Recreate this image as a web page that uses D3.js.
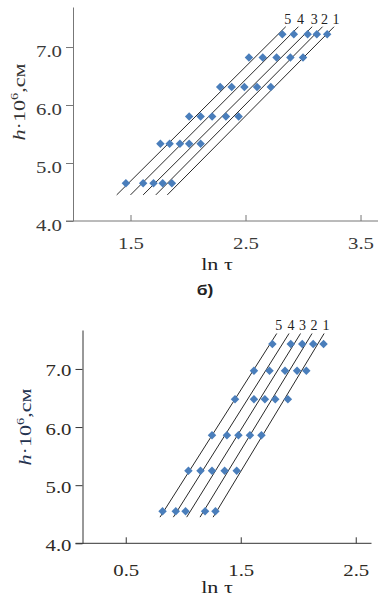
<!DOCTYPE html>
<html>
<head>
<meta charset="utf-8">
<script src="https://cdn.jsdelivr.net/npm/d3@7"></script>
<style>
  body { margin: 0; background: #fff; }
  svg { display: block; }
</style>
</head>
<body>
<div id="container"></div>
<script>
/* DATA */
const seriesNames = ["1", "2", "3", "4", "5"];

// upper chart (б)
const hTop = [4.65, 5.33, 5.80, 6.31, 6.82, 7.22];
const lnTauTop1 = [1.86, 2.11, 2.44, 2.72, 3.00, 3.21];
const lnTauTop2 = [1.78, 2.01, 2.33, 2.60, 2.89, 3.12];
const lnTauTop3 = [1.70, 1.93, 2.21, 2.49, 2.77, 3.04];
const lnTauTop4 = [1.61, 1.84, 2.11, 2.38, 2.65, 2.92];
const lnTauTop5 = [1.46, 1.76, 2.01, 2.28, 2.53, 2.82];
const lineHTop = [4.45, 7.35];              // h where the straight lines start / end
const lineFromTop = [1.82, 1.72, 1.61, 1.50, 1.38];
const lineToTop = [3.27, 3.17, 3.08, 2.96, 2.85];
const xTicksTop = [1.5, 2.5, 3.5];

// lower chart
const hBot = [4.55, 5.25, 5.86, 6.48, 6.97, 7.43];
const lnTauBot1 = [1.28, 1.465, 1.68, 1.91, 2.07, 2.22];
const lnTauBot2 = [1.19, 1.36, 1.58, 1.80, 1.99, 2.13];
const lnTauBot3 = [1.02, 1.25, 1.48, 1.71, 1.885, 2.035];
const lnTauBot4 = [0.935, 1.15, 1.38, 1.615, 1.75, 1.935];
const lnTauBot5 = [0.82, 1.045, 1.25, 1.45, 1.615, 1.775];
const lineHBot = [4.45, 7.61];
const lineFromBot = [1.26, 1.146, 1.03, 0.914, 0.798];
const lineToBot = [2.225, 2.12, 2.02, 1.92, 1.813];
const xTicksBot = [0.5, 1.5, 2.5];

const yTicks = [4, 5, 6, 7];

/* LAYOUT */
const width = 384, height = 599;
const stretch = 1.3; // the scanned text is wider than plain Times

const charts = [
  {
    h: hTop, series: [lnTauTop1, lnTauTop2, lnTauTop3, lnTauTop4, lnTauTop5],
    lineH: lineHTop, lineFrom: lineFromTop, lineTo: lineToTop, xTicks: xTicksTop,
    xDomain: [1.0, 3.652], xRange: [73, 378],
    yDomain: [4, 7.69], yRange: [221, 7],
    axisColor: "#777", textColor: "#3a3a3a", titleColor: "#333",
    yLabDy: 9, xLabDy: 28, xTitleY: 270, yTitleX: 25, yTitleY: 102
  },
  {
    h: hBot, series: [lnTauBot1, lnTauBot2, lnTauBot3, lnTauBot4, lnTauBot5],
    lineH: lineHBot, lineFrom: lineFromBot, lineTo: lineToBot, xTicks: xTicksBot,
    xDomain: [0.124, 2.637], xRange: [82.5, 371.5],
    yDomain: [4, 7.67], yRange: [543.3, 330],
    axisColor: "#333", textColor: "#2e2a24", titleColor: "#23324f",
    yLabDy: 7, xLabDy: 33, xTitleY: 593, yTitleX: 31, yTitleY: 427
  }
];

const svg = d3.select("#container").append("svg")
  .attr("width", width)
  .attr("height", height)
  .style("background-color", "#fff");

charts.forEach(c => {
  const x = d3.scaleLinear().domain(c.xDomain).range(c.xRange);
  const y = d3.scaleLinear().domain(c.yDomain).range(c.yRange);
  const g = svg.append("g");

  // Y AXIS
  const yAxis = d3.axisLeft(y).tickValues(yTicks).tickSize(7).tickSizeOuter(0)
    .tickFormat(d3.format(".1f"));
  const ya = g.append("g").attr("transform", `translate(${c.xRange[0]},0)`).call(yAxis);
  ya.selectAll("path, line").attr("stroke", c.axisColor);
  ya.selectAll("text")
    .attr("x", null).attr("dy", null)
    .attr("transform", `translate(-11,${c.yLabDy}) scale(${stretch},1)`)
    .attr("fill", c.textColor)
    .style("font-family", "'Liberation Serif', 'Times New Roman', serif")
    .style("font-size", "16px");

  // X AXIS (ticks point up into the plot)
  const xAxis = d3.axisBottom(x).tickValues(c.xTicks).tickSizeInner(-6).tickSizeOuter(0)
    .tickFormat(d3.format(".1f"));
  const xa = g.append("g").attr("transform", `translate(0,${c.yRange[0]})`).call(xAxis);
  xa.select(".domain").remove();
  xa.append("line")
    .attr("x1", c.xRange[0] - 7).attr("x2", c.xRange[1])
    .attr("stroke", c.axisColor);
  xa.selectAll("line").attr("stroke", c.axisColor);
  xa.selectAll("text")
    .attr("y", null).attr("dy", null)
    .attr("transform", `translate(0,${c.xLabDy}) scale(${stretch},1)`)
    .attr("fill", c.textColor)
    .style("font-family", "'Liberation Serif', 'Times New Roman', serif")
    .style("font-size", "16px");

  // LINES
  const line = d3.line().x(d => x(d[0])).y(d => y(d[1]));
  g.selectAll("path.fit")
    .data(seriesNames.map((s, i) => [[c.lineFrom[i], c.lineH[0]], [c.lineTo[i], c.lineH[1]]]))
    .join("path")
    .attr("class", "fit")
    .attr("d", line)
    .attr("stroke", "#111")
    .attr("stroke-width", 0.9)
    .attr("fill", "none");

  // POINTS
  const pts = c.series.flatMap(s => s.map((v, j) => ({ x: v, h: c.h[j] })));
  const diamond = d3.symbol().type(d3.symbolSquare).size(36);
  g.selectAll("path.pt")
    .data(pts)
    .join("path")
    .attr("class", "pt")
    .attr("d", diamond)
    .attr("transform", d => `translate(${x(d.x)},${y(d.h)}) rotate(45)`)
    .attr("fill", "#4a7ebb");

  // SERIES NUMBERS at the top end of each line
  g.selectAll("text.num")
    .data(seriesNames)
    .join("text")
    .attr("class", "num")
    .attr("x", (s, i) => x(c.lineTo[i]) + 2)
    .attr("y", y(c.lineH[1]) - 3)
    .attr("text-anchor", "middle")
    .attr("fill", "#222")
    .style("font-family", "'Liberation Serif', 'Times New Roman', serif")
    .style("font-size", "14px")
    .text(s => s);

  // AXIS TITLES
  g.append("text")
    .attr("transform", `translate(217,${c.xTitleY}) scale(${stretch},1)`)
    .attr("text-anchor", "middle")
    .attr("fill", "#222")
    .style("font-family", "'Liberation Serif', 'Times New Roman', serif")
    .style("font-size", "17px")
    .text("ln τ");

  const yt = g.append("text")
    .attr("transform", `translate(${c.yTitleX},${c.yTitleY}) rotate(-90) scale(${stretch},1)`)
    .attr("text-anchor", "middle")
    .attr("fill", c.titleColor)
    .style("font-family", "'Liberation Serif', 'Times New Roman', serif")
    .style("font-size", "17px");
  yt.append("tspan").style("font-style", "italic").text("h");
  yt.append("tspan").text("·10");
  yt.append("tspan").attr("dy", -7).style("font-size", "11px").text("6");
  yt.append("tspan").attr("dy", 7).text(",см");
});

// panel caption between the two charts
svg.append("text")
  .attr("transform", `translate(205,295) scale(1.25,1)`)
  .attr("text-anchor", "middle")
  .attr("fill", "#222")
  .style("font-family", "'Liberation Sans', Arial, sans-serif")
  .style("font-weight", "bold")
  .style("font-size", "14px")
  .text("б)");
</script>
</body>
</html>
